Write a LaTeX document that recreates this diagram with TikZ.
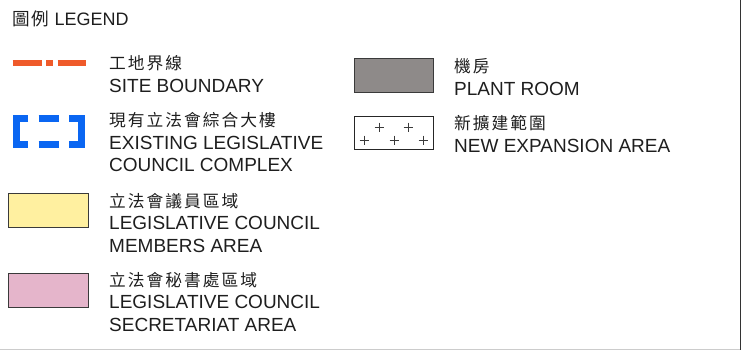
\documentclass[tikz,border=0pt]{standalone}
\usepackage{fontspec}
\setmainfont{Liberation Sans}
\newfontfamily\cjk{Noto Sans CJK TC}[Scale=0.88,LetterSpace=12]
\usetikzlibrary{positioning}
\definecolor{lgred}{HTML}{EF5A2A}
\definecolor{lgblue}{HTML}{0A66F2}
\definecolor{lgyellow}{HTML}{FFF0A0}
\definecolor{lgpink}{HTML}{E5B5CB}
\definecolor{lggray}{HTML}{8E8A89}
\definecolor{lgink}{HTML}{3A3A3A}
\definecolor{lgtextc}{HTML}{1E1E1E}
\tikzset{
  lgswatch/.style={draw=lgink, line width=1.3bp, anchor=north west, inner sep=0pt,
    minimum width=80bp, minimum height=34bp},
  lgtext/.style={anchor=base west, align=left, inner sep=0pt, text=lgtextc,
    font=\fontsize{19bp}{22.5bp}\selectfont},
  lgsite/.style={draw=lgred, line width=6bp},
  lgexist/.style={draw=lgblue, line width=7.5bp, miter limit=10},
  lgcross/.style={draw=lgink, line width=0.8bp}
}
\begin{document}
\begin{tikzpicture}[x=1bp, y=-1bp]
\useasboundingbox (0,0) rectangle (742,350);
% frame edges
\draw[line width=1.6bp, draw=black!80] (740.5,0) -- (740.5,350);
\draw[line width=1bp, draw=black!20] (0,349) -- (740,349);
% title
\node[lgtext, font=\fontsize{18bp}{20bp}\selectfont] (title) at (12,25)
  {{\cjk\fontsize{20bp}{20bp}\selectfont 圖例}\ LEGEND};
% site boundary (base anchor sits on the last line)
\draw[lgsite] (12.7,62.5) -- (41.7,62.5);
\draw[lgsite] (46,62.5) -- (53.3,62.5);
\draw[lgsite] (57.7,62.5) -- (86,62.5);
\node[lgtext] (sitetxt) at (109,92) {{\cjk 工地界線}\\SITE BOUNDARY};
% existing complex
\draw[lgexist] (28,118.5) -- (16.5,118.5) -- (16.5,144.5) -- (28,144.5);
\draw[lgexist] (38.5,118.5) -- (59,118.5);
\draw[lgexist] (38.5,144.5) -- (59,144.5);
\draw[lgexist] (69,118.5) -- (81.5,118.5) -- (81.5,144.5) -- (69,144.5);
\node[lgtext] (existtxt) at (109,171.7)
  {{\cjk 現有立法會綜合大樓}\\EXISTING LEGISLATIVE\\COUNCIL COMPLEX};
% members area
\node[lgswatch, fill=lgyellow] (members) at (8,193) {};
\node[lgtext] (membtxt) at (109,252)
  {{\cjk 立法會議員區域}\\LEGISLATIVE COUNCIL\\MEMBERS AREA};
% secretariat area
\node[lgswatch, fill=lgpink] (secret) at (8,273) {};
\node[lgtext] (secrtxt) at (109,331)
  {{\cjk 立法會秘書處區域}\\LEGISLATIVE COUNCIL\\SECRETARIAT AREA};
% plant room
\node[lgswatch, fill=lggray, minimum width=79bp] (plant) at (354,58) {};
\node[lgtext] (planttxt) at (454,95) {{\cjk 機房}\\PLANT ROOM};
% new expansion area
\node[lgswatch, fill=white, draw=black!85, minimum width=79bp, minimum height=33bp] (expand) at (354,116) {};
\foreach \px/\py in {379/127, 408/127, 364/140, 394/140, 423/140}
  \draw[lgcross] (\px,\py) +(-4.5,0) -- +(4.5,0) +(0,-4.5) -- +(0,4.5);
\node[lgtext] (expandtxt) at (454,152) {{\cjk 新擴建範圍}\\NEW EXPANSION AREA};
\end{tikzpicture}
\end{document}
